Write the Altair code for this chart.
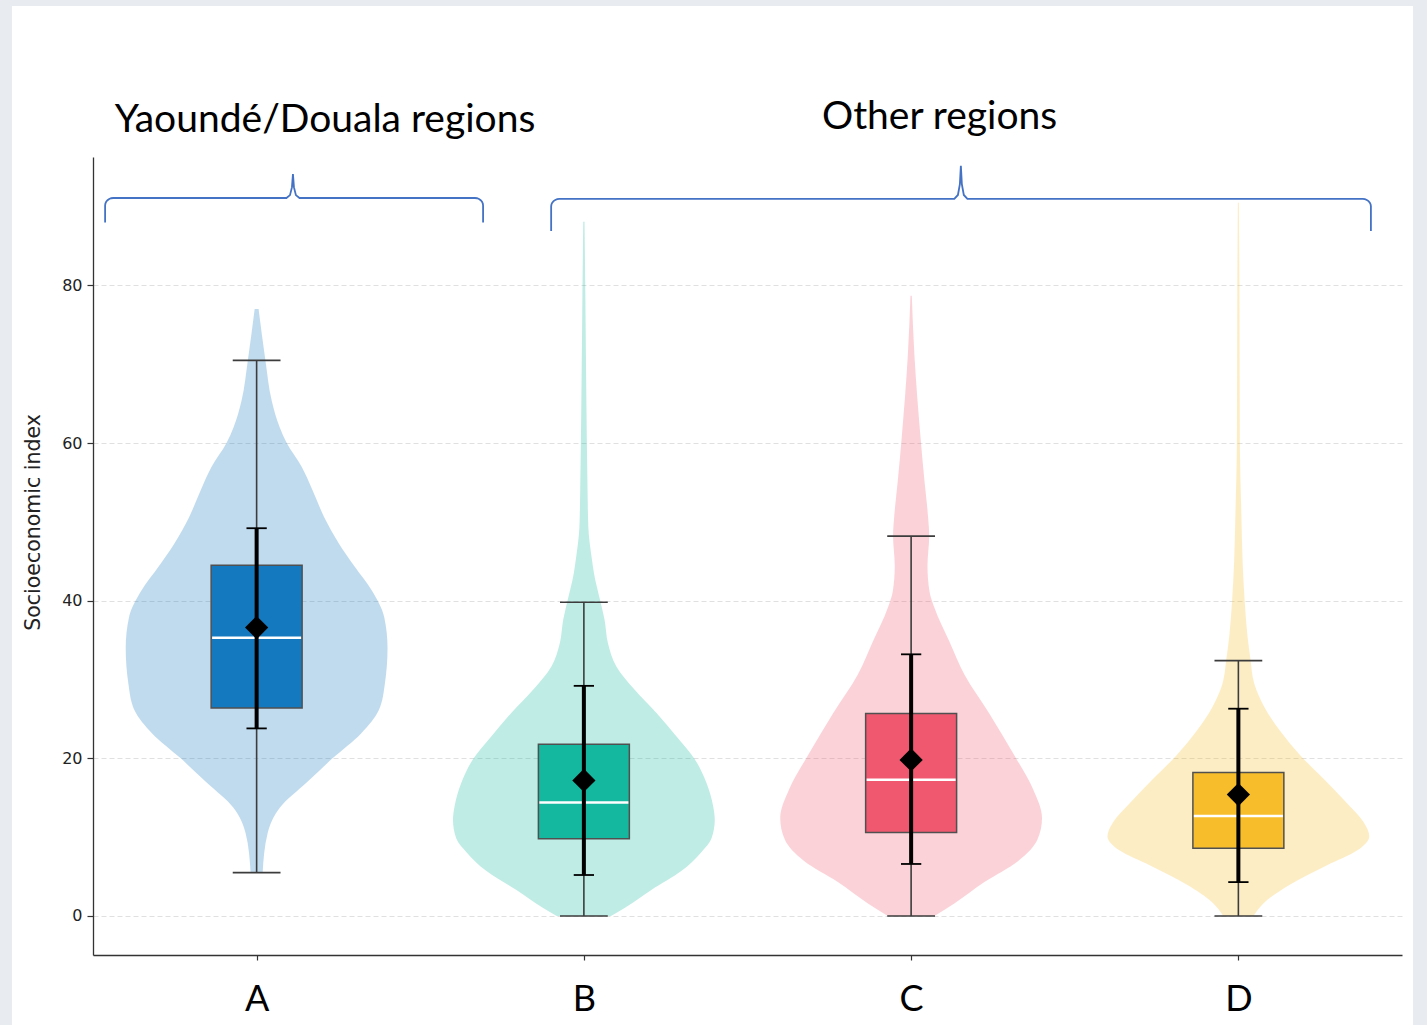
import altair as alt
import pandas as pd

# ---- data -------------------------------------------------------------
categories = ["A", "B", "C", "D"]
box_colors = ["#1579bf", "#14b89f", "#ef586e", "#f8bd2a"]

q1 = [26.4, 9.8, 10.6, 8.6]
q3 = [44.5, 21.8, 25.7, 18.2]
medians = [35.3, 14.4, 17.3, 12.7]
means = [36.6, 17.2, 19.8, 15.4]
sd_low = [23.8, 5.2, 6.6, 4.3]
sd_high = [49.2, 29.2, 33.2, 26.3]
whisker_low = [5.5, 0.0, 0.0, 0.0]
whisker_high = [70.5, 39.8, 48.2, 32.4]

# violin outlines: index level and relative half-width (1 = widest)
levels_a = [5.5, 10.5, 13.8, 16.9, 20.0, 23.2, 26.1, 29.5, 34.0, 37.9, 41.3,
            44.3, 47.3, 50.6, 54.0, 57.0, 60.0, 62.0, 65.4, 70.5, 77.0]
widths_a = [0.046, 0.084, 0.18, 0.38, 0.58, 0.80, 0.933, 0.98, 1.0, 0.975, 0.88,
            0.75, 0.627, 0.516, 0.428, 0.344, 0.23, 0.176, 0.115, 0.067, 0.015]

levels_b = [0.0, 1.0, 3.3, 5.7, 8.1, 9.8, 12.2, 14.0, 16.9, 19.9, 22.8, 25.8,
            28.7, 31.7, 34.6, 37.6, 40.0, 43.5, 45.3, 49.4, 55.3, 60.0, 67.2,
            79.0, 88.1]
widths_b = [0.207, 0.311, 0.515, 0.744, 0.897, 0.974, 1.0, 0.987, 0.936, 0.847,
            0.706, 0.553, 0.388, 0.247, 0.184, 0.158, 0.125, 0.077, 0.061, 0.034,
            0.027, 0.023, 0.018, 0.011, 0.005]

levels_c = [0.0, 1.6, 4.3, 7.0, 9.7, 12.4, 16.1, 20.4, 25.7, 30.6, 34.8, 39.1,
            41.2, 44.4, 48.2, 50.9, 55.2, 60.5, 71.2, 78.7]
widths_c = [0.178, 0.33, 0.56, 0.82, 0.965, 1.0, 0.931, 0.788, 0.597, 0.408,
            0.293, 0.178, 0.14, 0.125, 0.138, 0.128, 0.102, 0.073, 0.025, 0.005]

levels_d = [0.0, 1.6, 4.0, 6.4, 8.3, 10.1, 11.9, 14.3, 17.4, 20.4, 23.5, 26.5,
            29.5, 32.6, 35.6, 40.0, 44.7, 50.8, 60.0, 80.0, 90.5]
widths_d = [0.115, 0.191, 0.396, 0.674, 0.906, 1.0, 0.957, 0.83, 0.651, 0.472,
            0.318, 0.199, 0.121, 0.092, 0.069, 0.048, 0.033, 0.023, 0.011, 0.008,
            0.004]

group_labels = ["Yaoundé/Douala regions", "Other regions"]

# ---- geometry (in category units on x) ---------------------------------
VIOLIN_HALF = 0.4
BOX_HALF = 0.139
CAP_HALF = 0.073
SD_CAP_HALF = 0.031

violin_levels = [levels_a, levels_b, levels_c, levels_d]
violin_widths = [widths_a, widths_b, widths_c, widths_d]

violin_rows = []
for i, cat in enumerate(categories):
    for lv, w in zip(violin_levels[i], violin_widths[i]):
        violin_rows.append({"group": cat, "level": lv,
                            "lo": i - VIOLIN_HALF * w, "hi": i + VIOLIN_HALF * w,
                            "color": box_colors[i]})
violins = pd.DataFrame(violin_rows).sort_values(["group", "level"])

stats = pd.DataFrame({
    "group": categories,
    "pos": list(range(len(categories))),
    "q1": q1, "q3": q3, "median": medians, "mean": means,
    "sd_lo": sd_low, "sd_hi": sd_high,
    "wlo": whisker_low, "whi": whisker_high,
    "color": box_colors,
})
stats["box_lo"] = stats["pos"] - BOX_HALF
stats["box_hi"] = stats["pos"] + BOX_HALF
stats["med_lo"] = stats["pos"] - BOX_HALF + 0.003
stats["med_hi"] = stats["pos"] + BOX_HALF - 0.003
stats["cap_lo"] = stats["pos"] - CAP_HALF
stats["cap_hi"] = stats["pos"] + CAP_HALF
stats["tcap_lo"] = stats["pos"] - SD_CAP_HALF
stats["tcap_hi"] = stats["pos"] + SD_CAP_HALF


def brace_points(name, x0, x1, xt, y_flat, y_end, y_tip, rx=0.025, ry=0.95, tw=0.02):
    """Curly brace outline: downturned ends, flat arms and a pointed tip."""
    import math
    pts = [(x0, y_end)]
    for deg in range(0, 91, 15):
        t = math.radians(deg)
        pts.append((x0 + rx - rx * math.cos(t), y_flat - ry + ry * math.sin(t)))
    h = y_tip - y_flat
    pts += [(xt - tw, y_flat), (xt - tw * 0.45, y_flat + 0.12 * h),
            (xt - tw * 0.15, y_flat + 0.45 * h), (xt, y_tip),
            (xt + tw * 0.15, y_flat + 0.45 * h), (xt + tw * 0.45, y_flat + 0.12 * h),
            (xt + tw, y_flat)]
    for deg in range(90, -1, -15):
        t = math.radians(deg)
        pts.append((x1 - rx + rx * math.cos(t), y_flat - ry + ry * math.sin(t)))
    pts.append((x1, y_end))
    return [{"brace": name, "seq": k, "x": px, "y": py} for k, (px, py) in enumerate(pts)]


braces = pd.DataFrame(
    brace_points("left", -0.463, 0.692, 0.111, 91.1, 88.0, 94.15)
    + brace_points("right", 0.900, 3.405, 2.152, 90.98, 86.9, 95.17)
)
group_text = pd.DataFrame({"label": group_labels, "x": [0.209, 2.087], "y": [99.5, 99.85]})

# ---- scales & axes ------------------------------------------------------
xscale = alt.Scale(domain=[-0.5, 3.5], nice=False, zero=False)
yscale = alt.Scale(domain=[-4.95, 96.3], nice=False, zero=False)
label_array = "[" + ",".join("'%s'" % c for c in categories) + "]"
xaxis = alt.Axis(values=[0, 1, 2, 3], labelExpr=label_array + "[datum.value]",
                 grid=False, tickSize=5, tickColor="#333333", tickWidth=1.2,
                 domainColor="#333333", domainWidth=1.3, labelFont="Lato",
                 labelFontSize=36, labelColor="black", labelPadding=22, title="")
yaxis = alt.Axis(values=[0, 20, 40, 60, 80], grid=True, gridColor="#e0e0e0",
                 gridDash=[5, 3], gridWidth=1, tickSize=6, tickColor="#333333",
                 tickWidth=1.2, domainColor="#333333", domainWidth=1.3,
                 labelFont="DejaVu Sans", labelFontSize=16, labelColor="#222222",
                 labelPadding=5, title="Socioeconomic index", titleFont="DejaVu Sans",
                 titleFontSize=20.5, titleFontWeight="normal", titleColor="#222222",
                 titleX=-54, titleY=365, titleAlign="center",
                 titleBaseline="alphabetic", titleAngle=270)


def X(field):
    return alt.X(field, type="quantitative", scale=xscale, axis=xaxis)


def Y(field):
    return alt.Y(field, type="quantitative", scale=yscale, axis=yaxis)


# ---- layers -------------------------------------------------------------
violin_layer = alt.Chart(violins).mark_area(
    orient="horizontal", interpolate="monotone", fillOpacity=0.27, strokeWidth=0
).encode(y=Y("level"), x=X("lo"), x2="hi",
         fill=alt.Fill("color:N", scale=None), detail="group:N")

base = alt.Chart(stats)
whisker = base.mark_rule(color="#3c3c3c", strokeWidth=1.6).encode(
    x=X("pos"), y=Y("wlo"), y2="whi")
cap_low = base.mark_rule(color="#3c3c3c", strokeWidth=1.6).encode(
    x=X("cap_lo"), x2="cap_hi", y=Y("wlo"))
cap_high = base.mark_rule(color="#3c3c3c", strokeWidth=1.6).encode(
    x=X("cap_lo"), x2="cap_hi", y=Y("whi"))
boxes = base.mark_rect(stroke="#505050", strokeWidth=1.5).encode(
    x=X("box_lo"), x2="box_hi", y=Y("q1"), y2="q3",
    fill=alt.Fill("color:N", scale=None))
median_line = base.mark_rule(color="white", strokeWidth=2.5).encode(
    x=X("med_lo"), x2="med_hi", y=Y("median"))
sd_line = base.mark_rule(color="black", strokeWidth=4).encode(
    x=X("pos"), y=Y("sd_lo"), y2="sd_hi")
sd_cap_low = base.mark_rule(color="black", strokeWidth=1.8).encode(
    x=X("tcap_lo"), x2="tcap_hi", y=Y("sd_lo"))
sd_cap_high = base.mark_rule(color="black", strokeWidth=1.8).encode(
    x=X("tcap_lo"), x2="tcap_hi", y=Y("sd_hi"))
mean_mark = base.mark_point(shape="diamond", filled=True, size=540,
                            color="black", opacity=1).encode(x=X("pos"), y=Y("mean"))

brace_layer = alt.Chart(braces).mark_line(color="#4472c4", strokeWidth=1.8, clip=False).encode(
    x=X("x"), y=Y("y"), detail="brace:N", order="seq:Q")
text_layer = alt.Chart(group_text).mark_text(
    font="Lato", fontSize=39, align="center", baseline="alphabetic",
    color="black", clip=False).encode(x=X("x"), y=Y("y"), text="label:N")

# light grey page frame around the white figure
frame_grey = "#e8ebef"
one = pd.DataFrame({"k": [0]})
frame_left = alt.Chart(one).mark_rect(color=frame_grey).encode(
    x=alt.value(-93), x2=alt.value(-81), y=alt.value(-157), y2=alt.value(868))
frame_right = alt.Chart(one).mark_rect(color=frame_grey).encode(
    x=alt.value(1320), x2=alt.value(1334), y=alt.value(-157), y2=alt.value(868))
frame_top = alt.Chart(one).mark_rect(color=frame_grey).encode(
    x=alt.value(-93), x2=alt.value(1334), y=alt.value(-157), y2=alt.value(-151))

chart = alt.layer(
    violin_layer, whisker, cap_low, cap_high, boxes, median_line,
    sd_line, sd_cap_low, sd_cap_high, mean_mark,
    brace_layer, text_layer, frame_left, frame_right, frame_top,
).properties(
    width=1309, height=798, background="white",
    padding={"left": 93, "top": 157, "right": 25, "bottom": 70},
    autosize=alt.AutoSizeParams(type="none"),
).configure_view(stroke="transparent")

chart.save("out.html", embed_options={"renderer": "svg", "actions": False})
